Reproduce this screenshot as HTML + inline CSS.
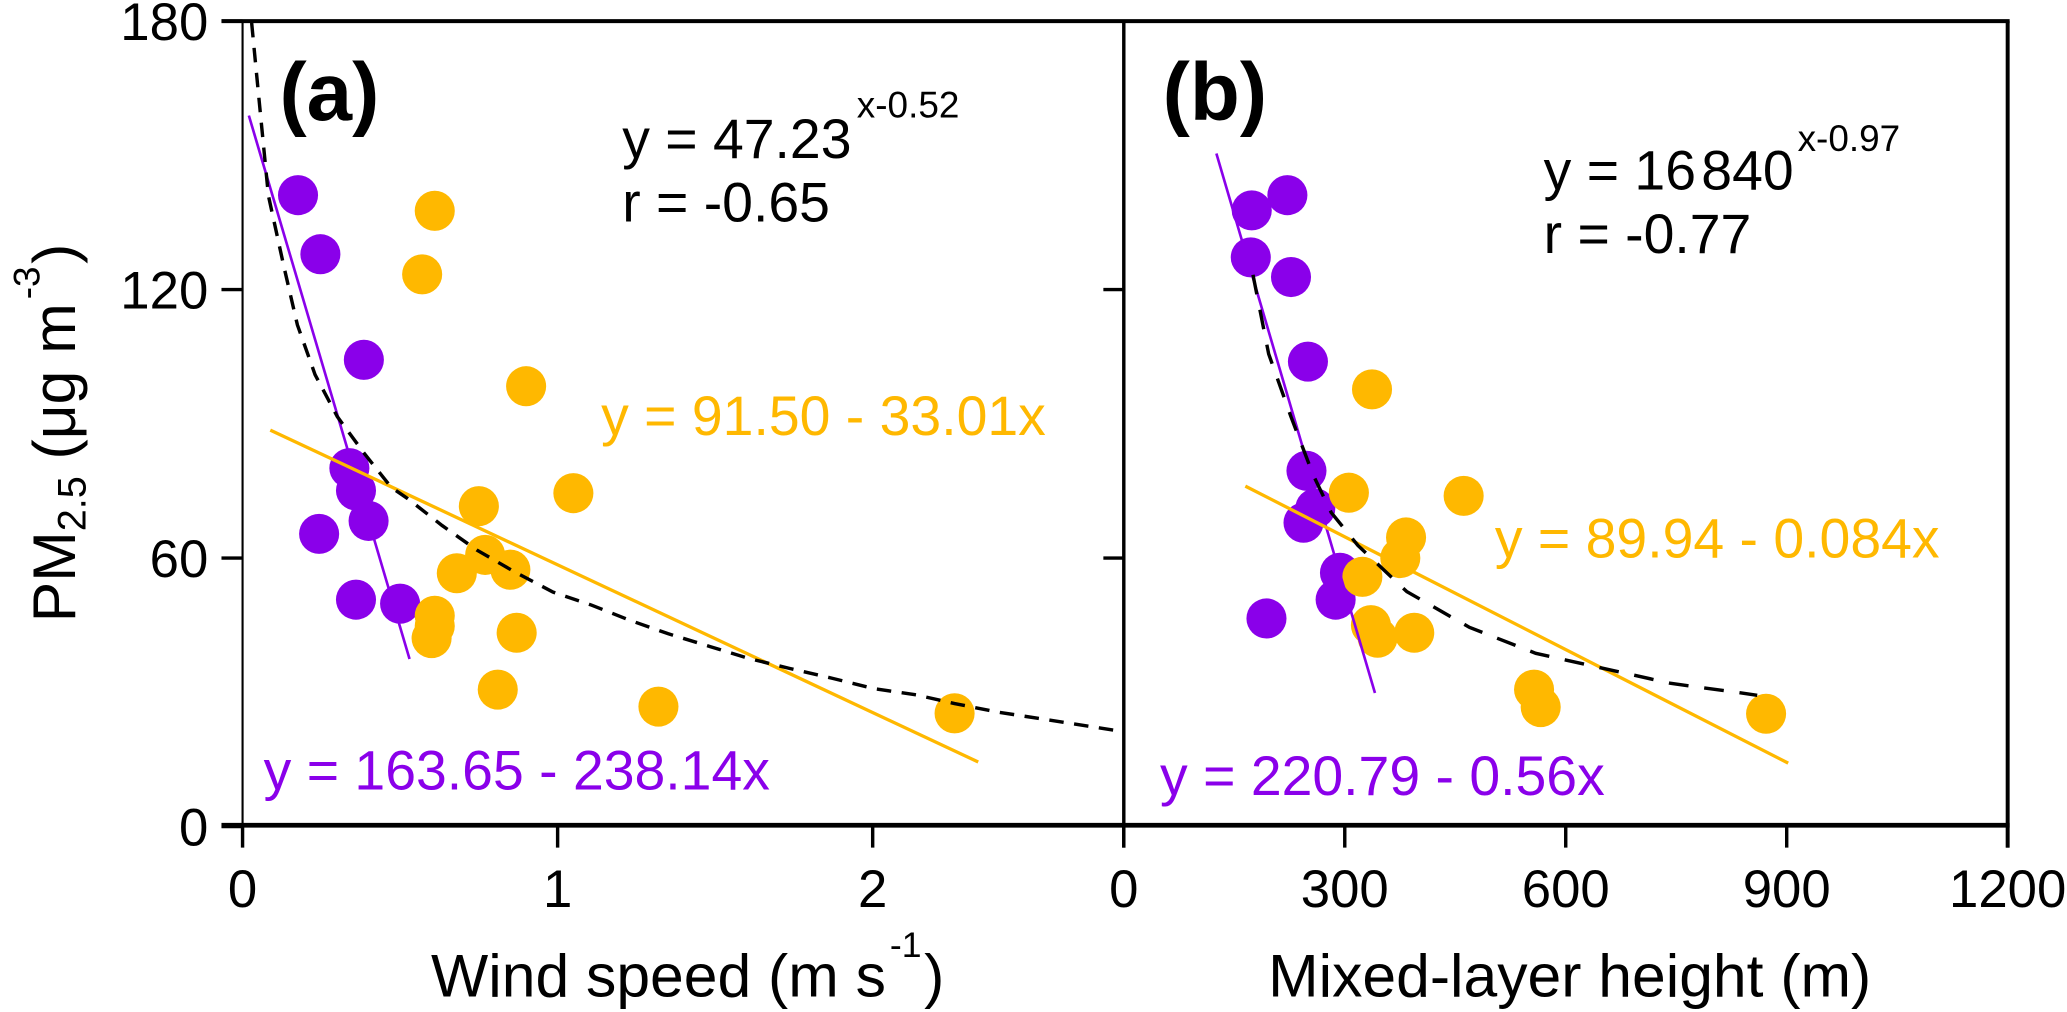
<!DOCTYPE html>
<html><head><meta charset="utf-8"><style>
html,body{margin:0;padding:0;background:#fff;}
svg{display:block;font-family:"Liberation Sans",Arial,sans-serif;}
</style></head><body>
<svg id="chart" width="2067" height="1012" viewBox="0 0 1568 767.7" xmlns="http://www.w3.org/2000/svg">
<defs>
<clipPath id="clipA"><rect x="184" y="16" width="668.5" height="611"/></clipPath>
<clipPath id="clipB"><rect x="852.5" y="16" width="670.5" height="611"/></clipPath>
</defs>
<g id="layer"></g>
</svg>
<script>
// ---- data ----
const yTicks=[0,60,120,180];
const xTicksA=[0,1,2];
const xTicksB=[0,300,600,900,1200];
const windPurple=[0.176,0.247,0.385,0.339,0.36,0.40,0.243,0.36,0.50];
const pmPurpleA=[141.1,127.9,104.3,80.1,75.1,68.3,65.4,50.7,49.8];
const windOrange=[0.61,0.57,0.90,1.05,0.75,0.77,0.68,0.85,0.61,0.61,0.60,0.87,0.81,1.32,2.26];
const pmOrangeA=[137.6,123.4,98.4,74.5,71.6,60.7,56.6,57.4,47.1,44.8,42.1,43.3,30.6,26.8,25.3];
const mlhPurple=[173.7,222.1,172.4,227,250,248,260,244,293.5,287.6,193.7];
const pmPurpleB=[137.7,141.1,127.2,122.8,103.9,79.5,71.1,67.9,56.7,50.7,46.5];
const mlhOrange=[337,305.6,461.4,383.2,375.4,323.9,335.5,344.6,394.3,557,566,872];
const pmOrangeB=[97.7,74.6,73.9,64.6,60,55.8,45,42.2,43.3,30.6,26.7,25.2];
// linear fits: [intercept, slope, xStart, xEnd]
const fitPurpleA=[163.65,-238.14,0.02,0.53];
const fitOrangeA=[91.50,-33.01,0.088,2.335];
const fitPurpleB=[220.79,-0.56,125.7,341];
const fitOrangeB=[89.94,-0.084,165,902];
const powerAx=[0.029,0.046,0.082,0.131,0.174,0.23,0.301,0.387,0.472,0.524,0.633,0.743,0.864,0.985,1.107,1.229,1.35,1.484,1.605,1.739,1.873,2.006,2.14,2.26,2.395,2.795];
const powerAy=[179.6,167,141,125.2,112.1,101,91.6,83.3,75.8,73.3,67.3,61.8,56.9,52.4,49.5,46.1,43.1,40.2,37.6,35.3,33.1,30.8,29.4,27.5,25.6,21.2];
const powerBx=[175.4,196.7,227,257,281.5,317.8,384.3,469.3,559.2,649.2,742.7,836,860];
const powerBy=[123.3,105.6,91.6,78.6,70.2,62.8,52.5,44.5,38.7,35.4,32,29.9,29.3];

// ---- scales ----
const Y0=627, Y180=16;
function ys(v){return Y0-(v/180)*(Y0-Y180);}
function xa(v){return 184+v*239;}
function xb(v){return 852.5+v*(1523-852.5)/1200;}
const PURPLE="#8A00EA", ORANGE="#FFB800";
const NS="http://www.w3.org/2000/svg";
const layer=document.getElementById('layer');
function mk(tag,attrs,parent){const e=document.createElementNS(NS,tag);for(const k in attrs)e.setAttribute(k,attrs[k]);(parent||layer).appendChild(e);return e;}

const gA=mk('g',{'clip-path':'url(#clipA)'});


const gB=mk('g',{'clip-path':'url(#clipB)'});



function points(xs,ys_,xf,color,g,name){
  for(let i=0;i<xs.length;i++){
    const c=mk('circle',{cx:xf(xs[i]),cy:ys(ys_[i]),r:15.2,fill:color},g);
    
    
  }
}
points(windPurple,pmPurpleA,xa,PURPLE,gA,'point-a-purple');
points(windOrange,pmOrangeA,xa,ORANGE,gA,'point-a-orange');
points(mlhPurple,pmPurpleB,xb,PURPLE,gB,'point-b-purple');
points(mlhOrange,pmOrangeB,xb,ORANGE,gB,'point-b-orange');

function fitLine(f,xf,color,w,g,name){
  const l=mk('line',{x1:xf(f[2]),y1:ys(f[0]+f[1]*f[2]),x2:xf(f[3]),y2:ys(f[0]+f[1]*f[3]),stroke:color,'stroke-width':w},g);
  
  
}
fitLine(fitPurpleA,xa,PURPLE,2,gA,'fit-line-a-purple');
fitLine(fitOrangeA,xa,ORANGE,2.5,gA,'fit-line-a-orange');
fitLine(fitPurpleB,xb,PURPLE,2,gB,'fit-line-b-purple');
fitLine(fitOrangeB,xb,ORANGE,2.5,gB,'fit-line-b-orange');

function curve(xs,ys_,xf,g,name,dash){
  let d='';
  for(let i=0;i<xs.length;i++){d+=(i?'L':'M')+xf(xs[i]).toFixed(1)+','+ys(ys_[i]).toFixed(1);}
  const p=mk('path',{d:d,fill:'none',stroke:'#000','stroke-width':2.6,'stroke-dasharray':dash},g);
  
  
}
curve(powerAx,powerAy,xa,gA,'power-fit-a','11 8');
curve(powerBx,powerBy,xb,gB,'power-fit-b','15 12');

// ---- axes ----
function ln(x1,y1,x2,y2,w,name){
  const l=mk('line',{x1:x1,y1:y1,x2:x2,y2:y2,stroke:'#000','stroke-width':w});
  
  
}
ln(184,16,184,627,1.6,'y-axis-line');
ln(168,16,1524.5,16,3,'top-border');
ln(1523,16,1523,643,3,'right-border');
ln(852.5,16,852.5,643,2.6,'panel-divider');
ln(168,626,1524.5,626,3.6,'x-axis-line');
yTicks.forEach(v=>{
  ln(168,ys(v),184,ys(v),2.6,'y-tick');
  const t=mk('text',{x:158,y:ys(v)+14.5,'font-size':40,'text-anchor':'end',fill:'#000'});
  t.textContent=v;
  
  
  if(v===60||v===120){ln(837,ys(v),852.5,ys(v),2.6,'y-tick-b');}
});
xTicksA.forEach(v=>{
  ln(xa(v),626,xa(v),643,2.6,'x-tick-a');
  const t=mk('text',{x:xa(v),y:688,'font-size':40,'text-anchor':'middle',fill:'#000'});
  t.textContent=v;
  
  
});
xTicksB.forEach(v=>{
  ln(xb(v),626,xb(v),643,2.6,'x-tick-b');
  const t=mk('text',{x:xb(v),y:688,'font-size':40,'text-anchor':'middle',fill:'#000'});
  t.textContent=v;
  
  
});
</script>
<script>
(function(){
const svg=document.getElementById('chart');
svg.insertAdjacentHTML('beforeend',`
<text x="212" y="91" font-size="62" font-weight="bold">(a)</text>
<text x="882" y="91" font-size="62" font-weight="bold">(b)</text>
<text x="472" y="120" font-size="42">y = 47.23<tspan font-size="28" dx="4" dy="-31">x-0.52</tspan></text>
<text x="472" y="168" font-size="42">r = -0.65</text>
<text x="1171" y="143.6" font-size="42">y = 16<tspan dx="4">840</tspan><tspan font-size="28" dx="3" dy="-29">x-0.97</tspan></text>
<text x="1171" y="192" font-size="42">r = -0.77</text>
<text x="456" y="330" font-size="42" fill="#FFB800">y = 91.50 - 33.01x</text>
<text x="200" y="599" font-size="42" fill="#8A00EA">y = 163.65 - 238.14x</text>
<text x="1134" y="423" font-size="42" fill="#FFB800">y = 89.94 - 0.084x</text>
<text x="880" y="603" font-size="42" fill="#8A00EA">y = 220.79 - 0.56x</text>
<text x="327" y="756" font-size="46">Wind speed (m s<tspan font-size="27" dx="3" dy="-30">-1</tspan><tspan dx="2" dy="30">)</tspan></text>
<text x="962" y="756" font-size="46">Mixed-layer height (m)</text>
<text transform="translate(57,472) rotate(-90)" font-size="46">PM<tspan font-size="30" dy="8">2.5</tspan><tspan dy="-8"> (μg m</tspan><tspan font-size="28" dx="3" dy="-27">-3</tspan><tspan dx="2" dy="27">)</tspan></text>
`);
})();
</script>
</body></html>
